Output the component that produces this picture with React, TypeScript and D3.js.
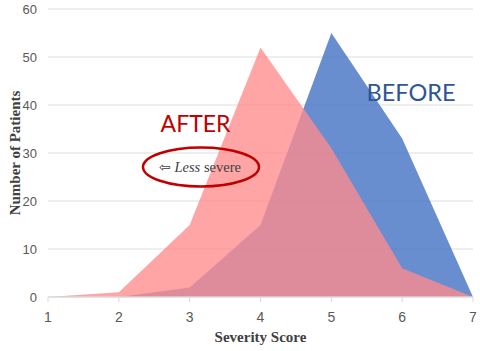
import React from "react";
import * as d3 from "d3";

// severity score categories
const scores = [1, 2, 3, 4, 5, 6, 7];
const beforeCounts = [0, 0, 2, 15, 55, 33, 0];
const afterCounts = [0, 1, 15, 52, 31, 6, 0];
const yTicks = [0, 10, 20, 30, 40, 50, 60];

const width = 480;
const height = 351;
const margin = { top: 9, right: 7, bottom: 54, left: 48 };

export default function App() {
  const x = d3
    .scaleLinear()
    .domain([1, 7])
    .range([margin.left, width - margin.right]);
  const y = d3
    .scaleLinear()
    .domain([0, 60])
    .range([height - margin.bottom, margin.top]);

  const area = d3
    .area<number>()
    .x((d, i) => x(scores[i]))
    .y0(y(0))
    .y1((d) => y(d));

  const labelFont = "'Liberation Sans', Arial, sans-serif";
  const serif = "'Liberation Serif', 'Times New Roman', serif";

  return (
    <svg
      width={width}
      height={height}
      style={{ position: "absolute", left: 0, top: 0, background: "#fff" }}
    >
      {/* gridlines */}
      {yTicks.slice(1).map((t) => (
        <line
          key={t}
          x1={x(1)}
          x2={x(7)}
          y1={y(t)}
          y2={y(t)}
          stroke="#e8e8e8"
          strokeWidth={1.3}
        />
      ))}
      {yTicks.map((t) => (
        <text
          key={"yl" + t}
          x={37}
          y={y(t)}
          dy="0.35em"
          textAnchor="end"
          fontSize={13}
          fontFamily={labelFont}
          fill="#595959"
        >
          {t}
        </text>
      ))}

      <path d={area(beforeCounts) || ""} fill="#4472C4" fillOpacity={0.8} />
      <path d={area(afterCounts) || ""} fill="rgb(255,140,140)" fillOpacity={0.78} />

      {/* x axis */}
      <line x1={x(1)} x2={x(7)} y1={y(0)} y2={y(0)} stroke="#d9d9d9" strokeWidth={1.3} />
      {scores.map((s) => (
        <g key={"xt" + s}>
          <line x1={x(s)} x2={x(s)} y1={y(0)} y2={y(0) + 5} stroke="#d9d9d9" />
          <text
            x={x(s)}
            y={y(0) + 25}
            textAnchor="middle"
            fontSize={14}
            fontFamily={labelFont}
            fill="#595959"
          >
            {s}
          </text>
        </g>
      ))}

      <text
        x={(x(1) + x(7)) / 2}
        y={342}
        textAnchor="middle"
        fontSize={15}
        fontWeight="bold"
        fontFamily={serif}
        fill="#404040"
      >
        Severity Score
      </text>
      <text
        transform={`translate(20, ${(y(0) + y(60)) / 2}) rotate(-90)`}
        textAnchor="middle"
        fontSize={15}
        fontWeight="bold"
        fontFamily={serif}
        fill="#404040"
      >
        Number of Patients
      </text>

      {/* annotations */}
      <text
        x={195.5}
        y={132}
        textAnchor="middle"
        fontSize={23}
        fontFamily="Lato, 'Open Sans', sans-serif"
        fill="#C00000"
      >
        AFTER
      </text>
      <text
        x={411}
        y={101}
        textAnchor="middle"
        fontSize={23.5}
        fontFamily="Lato, 'Open Sans', sans-serif"
        fill="#2F5597"
      >
        BEFORE
      </text>
      <ellipse cx={201} cy={167} rx={58} ry={19.5} fill="none" stroke="#C00000" strokeWidth={2.5} />
      <text x={200} y={167.5} dy="0.3em" textAnchor="middle" fontSize={14.5} fontFamily={serif} fill="#404040">
        <tspan fontFamily="'DejaVu Sans', sans-serif" fontSize={14}>⇦</tspan>
        <tspan fontStyle="italic"> Less</tspan>
        <tspan> severe</tspan>
      </text>
    </svg>
  );
}
